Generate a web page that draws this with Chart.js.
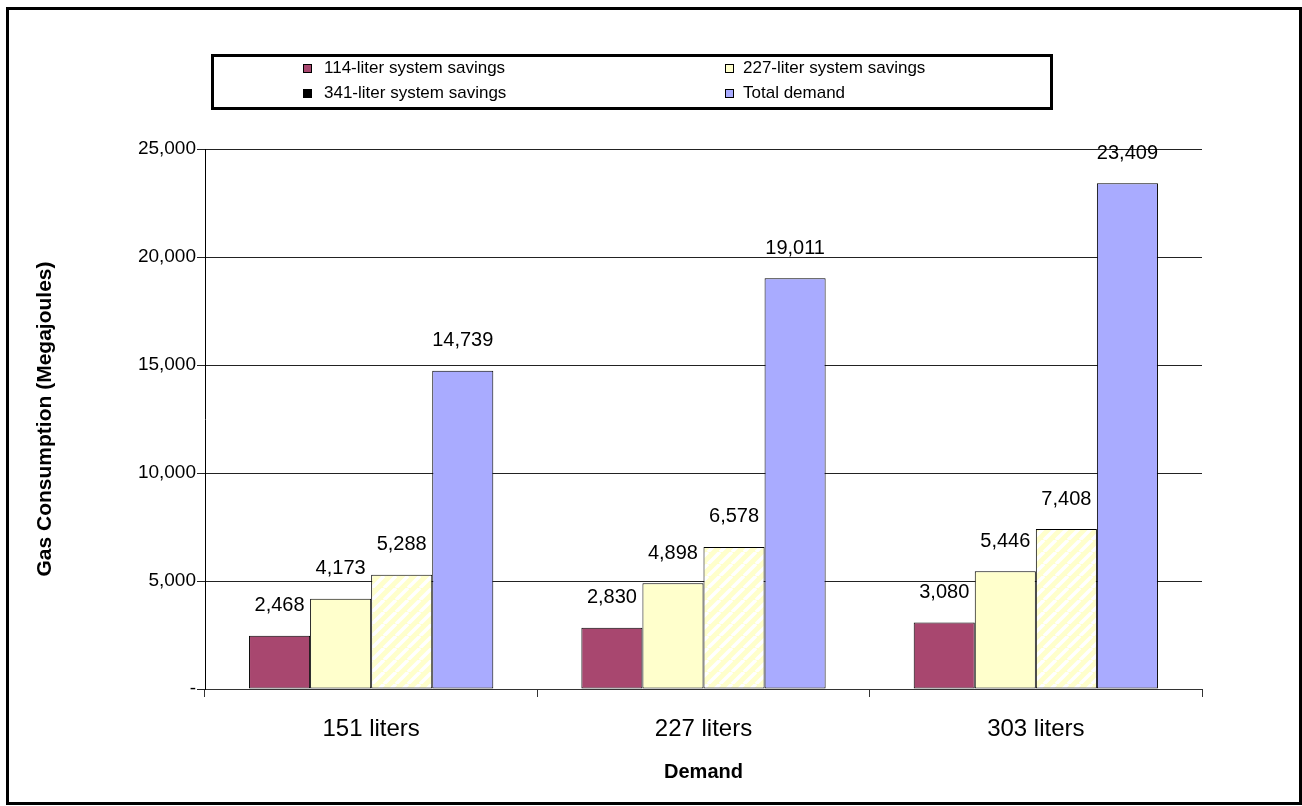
<!DOCTYPE html>
<html>
<head>
<meta charset="utf-8">
<script src="https://cdn.jsdelivr.net/npm/chart.js@4.4.1/dist/chart.umd.min.js"></script>
<style>
  html, body { margin: 0; padding: 0; background: #ffffff; }
  #wrap { width: 1302px; height: 806px; position: relative; }
</style>
</head>
<body>
<div id="wrap"><canvas id="c" width="1302" height="806"></canvas></div>
<script>
const categories = ["151 liters", "227 liters", "303 liters"];
const seriesNames = ["114-liter system savings", "227-liter system savings", "341-liter system savings", "Total demand"];
const savings114 = [2468, 2830, 3080];
const savings227 = [4173, 4898, 5446];
const savings341 = [5288, 6578, 7408];
const totalDemand = [14739, 19011, 23409];
const yTicks = [0, 5000, 10000, 15000, 20000, 25000];

const FONT = "'Liberation Sans', Arial, sans-serif";

function stripePattern() {
  const p = document.createElement('canvas');
  p.width = 12; p.height = 12;
  const g = p.getContext('2d');
  g.fillStyle = '#FFFFCC';
  g.fillRect(0, 0, 12, 12);
  g.strokeStyle = '#FFFFFF';
  g.lineWidth = 3.5;
  g.beginPath();
  for (let k = -12; k <= 24; k += 12) {
    g.moveTo(k, 12); g.lineTo(k + 12, 0);
  }
  g.stroke();
  return g.createPattern(p, 'repeat');
}
const canvas = document.getElementById('c');
const ctx = canvas.getContext('2d');
const pattern341 = stripePattern();

const colors = ['#A8476F', '#FFFFCC', pattern341, '#A9ABFF'];
const legendSwatch = ['#A8476F', '#FFFFCC', '#000000', '#A9ABFF'];
const seriesData = [savings114, savings227, savings341, totalDemand];

function fmt(v) { return v === 0 ? '-' : v.toLocaleString('en-US'); }

const framePlugin = {
  id: 'frame',
  afterDraw(chart) {
    const c = chart.ctx;
    c.save();
    c.strokeStyle = '#000';
    c.lineWidth = 3;
    c.strokeRect(7.5, 8.5, 1293, 795);
    c.restore();
  }
};

const legendPlugin = {
  id: 'boxLegend',
  afterDraw(chart) {
    const c = chart.ctx;
    c.save();
    c.fillStyle = '#fff';
    c.fillRect(212, 54, 840, 55);
    c.strokeStyle = '#000';
    c.lineWidth = 3;
    c.strokeRect(212.5, 55.5, 839, 53);
    const cols = [303, 725];
    const rows = [68, 93];
    c.font = '17px ' + FONT;
    c.textBaseline = 'middle';
    c.textAlign = 'left';
    chart.data.datasets.forEach((ds, i) => {
      const x = cols[i % 2];
      const y = rows[Math.floor(i / 2)];
      c.fillStyle = legendSwatch[i];
      c.fillRect(x, y - 4, 8, 8);
      c.strokeStyle = '#000';
      c.lineWidth = 1;
      c.strokeRect(x + 0.5, y - 4 + 0.5, 8, 8);
      c.fillStyle = '#000';
      c.fillText(ds.label, x + (i % 2 === 0 ? 21 : 18), y);
    });
    c.restore();
  }
};

const valueLabels = {
  id: 'valueLabels',
  afterDatasetsDraw(chart) {
    const c = chart.ctx;
    c.save();
    c.font = '20px ' + FONT;
    c.fillStyle = '#000';
    c.textAlign = 'center';
    c.textBaseline = 'bottom';
    chart.data.datasets.forEach((ds, i) => {
      const meta = chart.getDatasetMeta(i);
      meta.data.forEach((bar, j) => {
        c.fillText(fmt(ds.data[j]), bar.x, bar.y - 20);
      });
    });
    c.restore();
  }
};

new Chart(ctx, {
  type: 'bar',
  data: {
    labels: categories,
    datasets: seriesNames.map((name, i) => ({
      label: name,
      data: seriesData[i],
      backgroundColor: colors[i],
      borderColor: '#000',
      borderWidth: 1,
      borderSkipped: false,
      categoryPercentage: 0.735,
      barPercentage: 1.0
    }))
  },
  options: {
    responsive: false,
    animation: false,
    events: [],
    layout: { padding: { left: 0, right: 100, top: 149, bottom: 0 } },
    plugins: { legend: { display: false }, tooltip: { enabled: false } },
    scales: {
      x: {
        grid: { display: true, drawOnChartArea: false, drawTicks: true, tickLength: 8, color: '#333', offset: true },
        border: { display: true, color: '#333', width: 1 },
        ticks: { font: { family: FONT, size: 24 }, color: '#000', padding: 18 },
        title: { display: true, text: 'Demand', font: { family: FONT, size: 20, weight: 'bold' }, color: '#000', padding: { top: 0, bottom: 22 } },
        afterFit(scale) { scale.height = 117; }
      },
      y: {
        min: 0, max: 25000,
        afterBuildTicks(scale) { scale.ticks = yTicks.map(v => ({ value: v })); },
        grid: { display: true, drawOnChartArea: true, drawTicks: true, tickLength: 8, color: '#222' },
        border: { display: true, color: '#000', width: 1 },
        ticks: { font: { family: FONT, size: 19 }, color: '#000', padding: 1, callback: v => fmt(v) },
        title: { display: true, text: 'Gas Consumption (Megajoules)', font: { family: FONT, size: 21, weight: 'bold' }, color: '#000', padding: { top: 33, bottom: 0 } },
        afterFit(scale) { scale.width = 205; }
      }
    }
  },
  plugins: [valueLabels, legendPlugin, framePlugin]
});
</script>
</body>
</html>
